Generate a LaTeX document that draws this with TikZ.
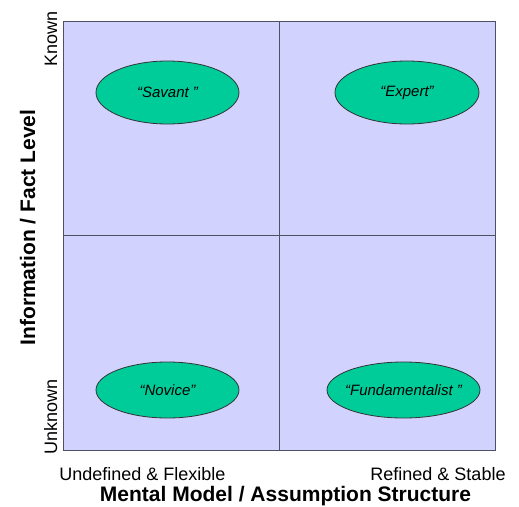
\documentclass[tikz,border=0pt]{standalone}
\usepackage{fontspec}
\setmainfont{Liberation Sans}
\usetikzlibrary{shapes.geometric}
\definecolor{quadfill}{RGB}{210,210,255}
\definecolor{gridline}{RGB}{80,80,100}
\definecolor{bubble}{RGB}{0,204,153}
\tikzset{
  quad/.style={fill=quadfill, draw=gridline, line width=1pt},
  divider/.style={draw=gridline, line width=1pt},
  bubblenode/.style={ellipse, fill=bubble, draw=black!80, line width=0.8pt,
    inner sep=0pt, font=\fontsize{15}{18}\selectfont\itshape},
  ticklabel/.style={font=\fontsize{18}{21}\selectfont, inner sep=0pt},
  axislabel/.style={font=\fontsize{21}{24}\selectfont\bfseries, inner sep=0pt}
}
\begin{document}
\begin{tikzpicture}[x=1pt,y=-1pt]
\useasboundingbox (0,0) rectangle (519,506);
% quadrant area and dividing lines
\coordinate (tl) at (63,21);
\coordinate (br) at (495,450);
\coordinate (vtop) at (279.5,21);
\coordinate (vbot) at (279.5,450);
\coordinate (hleft) at (63,235);
\coordinate (hright) at (495,235);
\path[quad] (tl) rectangle (br);
\draw[divider] (vtop) -- (vbot);
\draw[divider] (hleft) -- (hright);
% the four types
\node[bubblenode, minimum width=143pt, minimum height=63pt] (savant) at (167.5,92.5) {“Savant ”};
\node[bubblenode, minimum width=144pt, minimum height=63pt] (expert) at (407,92.5) {“Expert”};
\node[bubblenode, minimum width=143pt, minimum height=56pt] (novice) at (167.5,390) {“Novice”};
\node[bubblenode, inner xsep=-5pt, minimum width=153pt, minimum height=56pt] (fund) at (403.5,390) {“Fundamentalist ”};
% vertical axis
\node[ticklabel, rotate=90, anchor=base] (known) at (57,39) {Known};
\node[ticklabel, rotate=90, anchor=base] (unknown) at (57,416.5) {Unknown};
\node[axislabel, rotate=90, anchor=base] (ylab) at (35,227.5) {Information / Fact Level};
% horizontal axis
\node[ticklabel, anchor=base] (undef) at (142.5,480) {Undefined \& Flexible};
\node[ticklabel, anchor=base] (refined) at (438,480) {Refined \& Stable};
\node[axislabel, anchor=base] (xlab) at (285.5,501.5) {Mental Model / Assumption Structure};
\end{tikzpicture}
\end{document}
